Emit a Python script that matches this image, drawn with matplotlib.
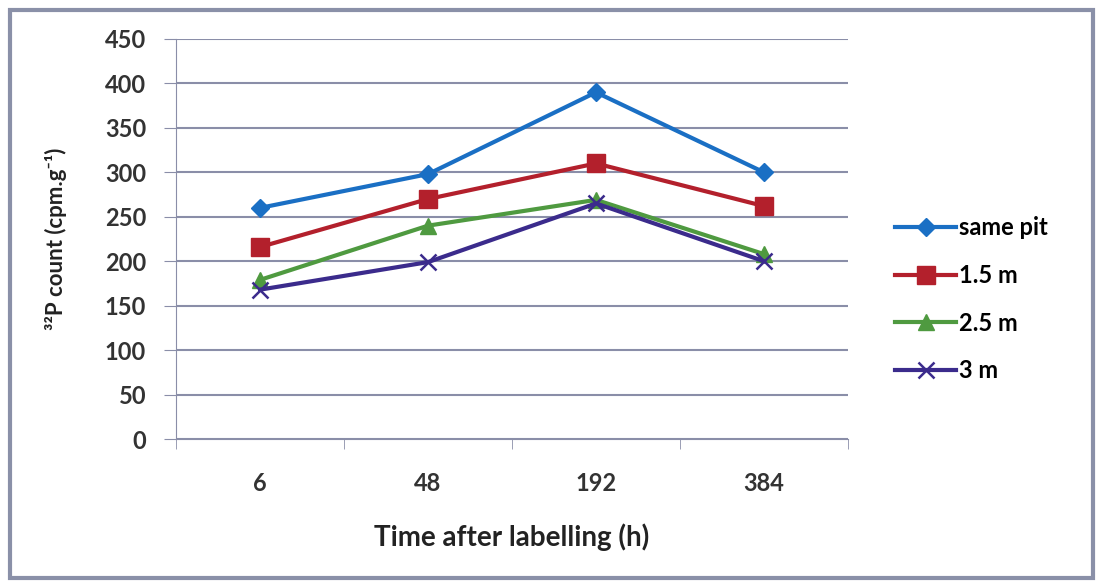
import matplotlib.pyplot as plt
from matplotlib.patches import Rectangle

plt.rcParams['font.family'] = ['Lato', 'DejaVu Sans']

times = ['6', '48', '192', '384']
same_pit = [260, 298, 390, 300]
m1_5 = [216, 270, 310, 262]
m2_5 = [179, 240, 269, 208]
m3 = [168, 199, 265, 200]

series = [
    (same_pit, 'same pit', '#1a6fc4', 'D', 9),
    (m1_5, '1.5 m', '#b3202c', 's', 13),
    (m2_5, '2.5 m', '#4f9a40', '^', 11),
    (m3, '3 m', '#3b2b8c', 'x', 11),
]

fig = plt.figure(figsize=(11.03, 5.81), dpi=100)
ax = fig.add_axes([0.1596, 0.2444, 0.6092, 0.6885])

x = list(range(len(times)))
for vals, label, color, marker, ms in series:
    ax.plot(x, vals, color=color, lw=3, marker=marker, markersize=ms,
            markeredgewidth=1.8 if marker == 'x' else 1, label=label)

ax.set_ylim(0, 450)
ax.set_yticks(range(0, 451, 50))
ax.set_xlim(-0.5, 3.5)
ax.set_xticks(x)
ax.set_xticklabels(times)
ax.set_xticks([-0.5, 0.5, 1.5, 2.5, 3.5], minor=True)
ax.tick_params(axis='x', which='major', length=0, pad=24, labelsize=17)
ax.tick_params(axis='x', which='minor', length=7, color='#8a8ea8')
ax.tick_params(axis='y', length=8.5, color='#8a8ea8', labelsize=17, pad=13)
for lbl in ax.get_xticklabels() + ax.get_yticklabels():
    lbl.set_fontweight('bold')
    lbl.set_color('#333333')

ax.grid(axis='y', color='#8a8ea8', lw=1.5)
ax.set_axisbelow(True)
for side in ['top', 'right']:
    ax.spines[side].set_visible(False)
ax.spines['left'].set_color('#8a8ea8')
ax.spines['bottom'].set_color('#8a8ea8')

ax.set_xlabel('Time after labelling (h)', fontsize=20, fontweight='bold',
              color='#222222', labelpad=20)
ax.set_ylabel('³²P count (cpm.g⁻¹)', fontsize=16, fontweight='bold',
              color='#222222')
ax.yaxis.set_label_coords(-0.163, 0.5)

fig.legend(loc='center left', bbox_to_anchor=(0.792, 0.485), frameon=False,
           handlelength=2.6, handletextpad=0.1, labelspacing=1.05,
           prop={'weight': 'bold', 'size': 17})

fig.patches.append(Rectangle((0.009, 0.005), 0.982, 0.978, transform=fig.transFigure,
                             fill=False, edgecolor='#8a90a8', lw=3))

fig.savefig('out.png', dpi=100)
